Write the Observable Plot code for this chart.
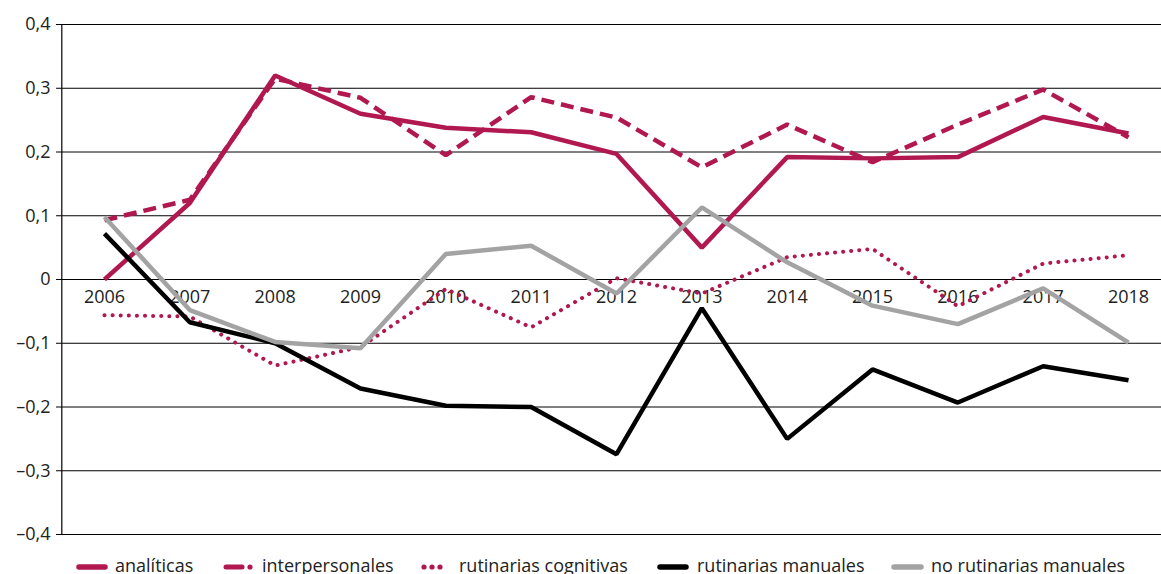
<!DOCTYPE html>
<html>
<head>
<meta charset="utf-8">
<script src="https://cdn.jsdelivr.net/npm/d3@7"></script>
<script src="https://cdn.jsdelivr.net/npm/@observablehq/plot@0.6"></script>
<style>
  body { margin: 0; background: #fff; font-family: "Open Sans", sans-serif; }
  #chart svg { display: block; }
</style>
</head>
<body>
<div id="chart"></div>
<script>
const years = [2006, 2007, 2008, 2009, 2010, 2011, 2012, 2013, 2014, 2015, 2016, 2017, 2018];
const yTicks = [-0.4, -0.3, -0.2, -0.1, 0, 0.1, 0.2, 0.3, 0.4];

const analiticas        = [0.0, 0.12, 0.32, 0.26, 0.238, 0.231, 0.197, 0.05, 0.192, 0.19, 0.192, 0.255, 0.229];
const interpersonales   = [0.093, 0.125, 0.315, 0.285, 0.195, 0.286, 0.254, 0.176, 0.243, 0.184, 0.243, 0.298, 0.223];
const rutCognitivas     = [-0.056, -0.058, -0.135, -0.106, -0.015, -0.075, 0.002, -0.022, 0.035, 0.048, -0.042, 0.025, 0.038];
const rutManuales       = [0.072, -0.067, -0.1, -0.171, -0.198, -0.2, -0.274, -0.045, -0.25, -0.141, -0.193, -0.136, -0.158];
const noRutManuales     = [0.098, -0.048, -0.098, -0.108, 0.04, 0.053, -0.022, 0.113, 0.027, -0.041, -0.07, -0.014, -0.099];

const seriesNames = ["analíticas", "interpersonales", "rutinarias cognitivas", "rutinarias manuales", "no rutinarias manuales"];
const seriesValues = [analiticas, interpersonales, rutCognitivas, rutManuales, noRutManuales];

const crimson = "#b0184f";
const styles = [
  {stroke: crimson, strokeWidth: 4.5, dash: null, cap: "butt"},
  {stroke: crimson, strokeWidth: 4.5, dash: "13,7", cap: "butt"},
  {stroke: crimson, strokeWidth: 4, dash: "0.1,8", cap: "round"},
  {stroke: "#000000", strokeWidth: 4.5, dash: null, cap: "butt"},
  {stroke: "#a3a3a3", strokeWidth: 4.5, dash: null, cap: "butt"}
];

const fmt = d => d === 0 ? "0" : d.toFixed(1).replace(".", ",").replace("-", "\u2013");

const lineMarks = seriesValues.map((vals, i) => {
  const data = years.map((y, j) => ({year: y, value: vals[j]}));
  const s = styles[i];
  const opts = {x: "year", y: "value", stroke: s.stroke, strokeWidth: s.strokeWidth, strokeLinecap: s.cap, strokeLinejoin: "miter"};
  if (s.dash) opts.strokeDasharray = s.dash;
  return Plot.line(data, opts);
});

const plot = Plot.plot({
  width: 1161,
  height: 548,
  marginLeft: 61,
  marginRight: 0,
  marginTop: 24,
  marginBottom: 14,
  style: {fontFamily: "Open Sans, sans-serif", background: "#fff"},
  x: {domain: [2005.5, 2018.5], range: [61.3, 1170.7], axis: null},
  y: {domain: [-0.4, 0.4], range: [534, 24], axis: null},
  marks: [
    Plot.ruleY(yTicks, {stroke: "#000", strokeWidth: 1}),
    Plot.ruleX([2005.5], {y1: -0.4, y2: 0.4, stroke: "#000", strokeWidth: 1.2}),
    Plot.axisY({ticks: yTicks, tickFormat: fmt, tickSize: 5, tickPadding: 6, fontSize: 18, stroke: "#000", color: "#222", strokeOpacity: 1, label: null}),
    Plot.text(years, {x: d => d, y: 0, dy: 18, text: d => String(d), fontSize: 18, fill: "#222"}),
    ...lineMarks
  ]
});
document.getElementById("chart").appendChild(plot);

// Legend below the chart
const legendPos = [
  {sx1: 79, sx2: 105, tx: 115},
  {sx1: 226, sx2: 252, tx: 262},
  {sx1: 424, sx2: 442, tx: 459},
  {sx1: 660, sx2: 686, tx: 697},
  {sx1: 894, sx2: 921, tx: 931}
];
const leg = d3.create("svg").attr("width", 1161).attr("height", 26).style("display", "block");
seriesNames.forEach((name, i) => {
  const p = legendPos[i], s = styles[i];
  const cy = 19;
  if (i === 1) {
    leg.append("line").attr("x1", p.sx1).attr("x2", p.sx1 + 16).attr("y1", cy).attr("y2", cy)
      .attr("stroke", s.stroke).attr("stroke-width", 5).attr("stroke-linecap", "round");
    leg.append("circle").attr("cx", p.sx2 - 2).attr("cy", cy).attr("r", 2.6).attr("fill", s.stroke);
  } else if (i === 2) {
    [0, 1, 2].forEach(k => leg.append("circle").attr("cx", p.sx1 + k * 8).attr("cy", cy).attr("r", 2.6).attr("fill", s.stroke));
  } else {
    leg.append("line").attr("x1", p.sx1).attr("x2", p.sx2).attr("y1", cy).attr("y2", cy)
      .attr("stroke", s.stroke).attr("stroke-width", 5.5).attr("stroke-linecap", "round");
  }
  leg.append("text").attr("x", p.tx).attr("y", 24).attr("font-size", 18)
    .attr("font-family", "Open Sans, sans-serif").attr("fill", "#222").text(name);
});
document.getElementById("chart").appendChild(leg.node());
</script>
</body>
</html>
